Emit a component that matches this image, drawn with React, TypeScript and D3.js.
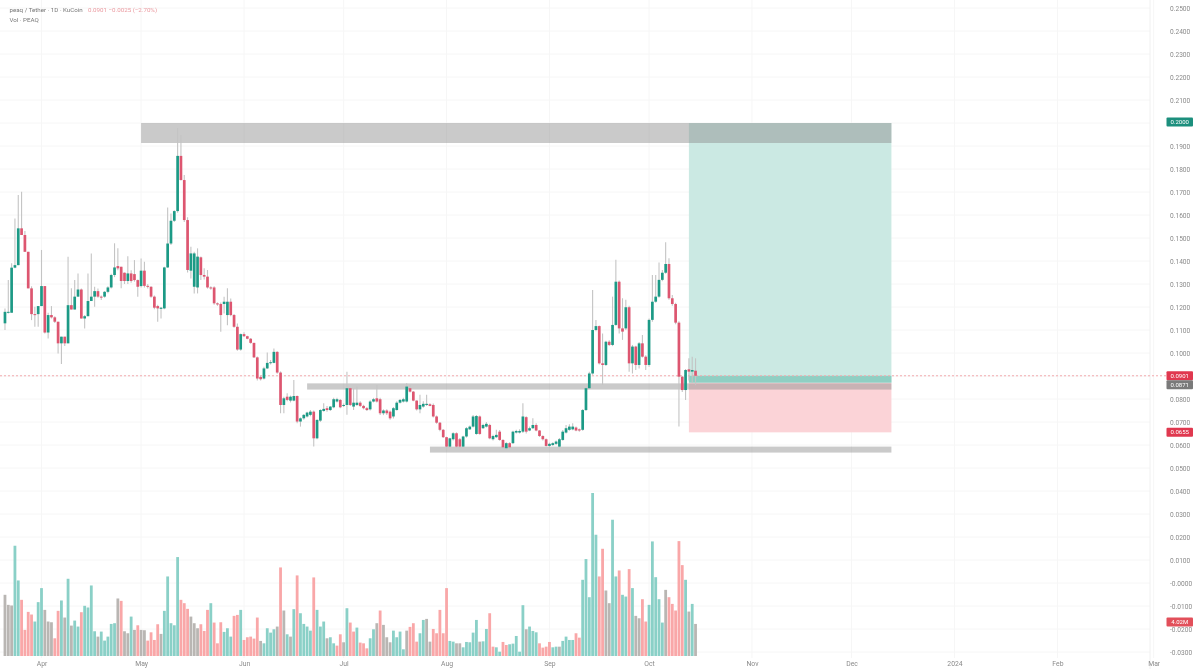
import { useEffect, useRef } from "react";
import * as d3 from "d3";

const firstDay = Date.UTC(2023, 2, 21);

const opens = [
  .1129, .1175, .1175, .1371, .1382, .1542, .1513, .1440, .1281, .1169,
  .1169, .1204, .1291, .1089, .1165, .1155, .1136, .1042, .1071, .1042,
  .1208, .1189, .1245, .1276, .1150, .1160, .1226, .1245, .1269, .1245,
  .1245, .1266, .1285, .1339, .1378, .1375, .1349, .1313, .1346, .1343,
  .1317, .1291, .1358, .1292, .1288, .1245, .1204, .1192, .1194, .1372,
  .1476, .1575, .1617, .1857, .1752, .1578, .1358, .1288, .1285, .1416,
  .1339, .1332, .1285, .1285, .1216, .1213, .1213, .1165, .1223, .1165,
  .1114, .1015, .1082, .1073, .1062, .1044, .0981, .0896, .0889, .0933,
  .0957, .0957, .1005, .0915, .0774, .0810, .0793, .0793, .0813, .0702,
  .0716, .0724, .0731, .0745, .0629, .0706, .0748, .0760, .0752, .0764,
  .0789, .0796, .0770, .0774, .0847, .0767, .0774, .0784, .0770, .0760,
  .0755, .0789, .0803, .0799, .0738, .0750, .0745, .0724, .0752, .0784,
  .0789, .0789, .0847, .0832, .0793, .0755, .0767, .0774, .0777, .0774,
  .0724, .0697, .0666, .0634, .0593, .0625, .0651, .0625, .0593, .0637,
  .0668, .0680, .0648, .0724, .0673, .0680, .0687, .0625, .0634, .0658,
  .0622, .0586, .0608, .0608, .0654, .0654, .0658, .0721, .0663, .0673,
  .0687, .0663, .0639, .0625, .0596, .0600, .0605, .0593, .0622, .0654,
  .0666, .0668, .0676, .0668, .0666, .0752, .0847, .0911, .1100, .1117,
  .0955, .0948, .1049, .1035, .1122, .1310, .1107, .1107, .1199, .0955,
  .1028, .0948, .1042, .0984, .0948, .1144, .1223, .1245, .1318, .1349,
  .1387, .1238, .1213, .1132, .0897, .0839, .0929, .0919, .0923,
];

const closes = [
  .1179, .1179, .1371, .1382, .1542, .1513, .1440, .1281, .1169, .1165,
  .1204, .1291, .1089, .1165, .1155, .1136, .1042, .1071, .1042, .1208,
  .1189, .1245, .1276, .1150, .1160, .1226, .1245, .1269, .1245, .1242,
  .1266, .1285, .1339, .1372, .1368, .1313, .1313, .1346, .1313, .1317,
  .1288, .1358, .1292, .1288, .1245, .1197, .1194, .1197, .1372, .1476,
  .1575, .1617, .1857, .1752, .1578, .1361, .1433, .1433, .1419, .1339,
  .1332, .1285, .1281, .1216, .1211, .1165, .1223, .1223, .1165, .1114,
  .1015, .1082, .1073, .1062, .1044, .0981, .0889, .0886, .0933, .0957,
  .0960, .1005, .0915, .0774, .0803, .0796, .0810, .0813, .0702, .0716,
  .0731, .0741, .0745, .0629, .0709, .0752, .0757, .0752, .0767, .0799,
  .0799, .0764, .0774, .0847, .0774, .0784, .0784, .0770, .0760, .0752,
  .0789, .0799, .0789, .0738, .0750, .0738, .0716, .0760, .0784, .0796,
  .0799, .0854, .0832, .0793, .0755, .0774, .0779, .0779, .0770, .0724,
  .0697, .0666, .0634, .0593, .0629, .0651, .0593, .0593, .0637, .0673,
  .0680, .0724, .0726, .0648, .0687, .0692, .0629, .0639, .0644, .0622,
  .0590, .0608, .0590, .0658, .0661, .0661, .0724, .0658, .0673, .0687,
  .0663, .0639, .0625, .0596, .0605, .0608, .0615, .0625, .0658, .0673,
  .0680, .0680, .0663, .0663, .0752, .0847, .0911, .1100, .1117, .0955,
  .0948, .1049, .1035, .1122, .1310, .1107, .1093, .1199, .0955, .1028,
  .0948, .1042, .0984, .0948, .1144, .1223, .1245, .1318, .1349, .1387,
  .1238, .1213, .1132, .0897, .0839, .0926, .0919, .0926, .0901,
];

const highs = [
  .1194, .1317, .1390, .1585, .1687, .1701, .1530, .1440, .1290, .1201,
  .1204, .1448, .1291, .1175, .1204, .1160, .1136, .1071, .1071, .1419,
  .1281, .1317, .1346, .1280, .1165, .1346, .1433, .1288, .1280, .1250,
  .1270, .1290, .1345, .1477, .1455, .1375, .1350, .1421, .1360, .1404,
  .1320, .1411, .1397, .1300, .1290, .1250, .1210, .1200, .1375, .1633,
  .1607, .1621, .1978, .1948, .1774, .1590, .1462, .1440, .1455, .1420,
  .1368, .1361, .1290, .1290, .1220, .1220, .1245, .1281, .1237, .1170,
  .1128, .1085, .1090, .1075, .1065, .1045, .0985, .0900, .0940, .1002,
  .0970, .1020, .1008, .0920, .0810, .0825, .0815, .0883, .0815, .0720,
  .0735, .0745, .0752, .0750, .0712, .0755, .0782, .0770, .0770, .0805,
  .0805, .0800, .0780, .0919, .0850, .0847, .0854, .0790, .0775, .0765,
  .0795, .0805, .0861, .0805, .0755, .0755, .0750, .0765, .0790, .0800,
  .0805, .0869, .0860, .0835, .0795, .0818, .0790, .0818, .0782, .0780,
  .0728, .0700, .0670, .0636, .0632, .0655, .0655, .0630, .0640, .0678,
  .0685, .0730, .0730, .0728, .0692, .0700, .0692, .0645, .0666, .0665,
  .0625, .0612, .0612, .0662, .0666, .0668, .0782, .0725, .0680, .0716,
  .0695, .0665, .0642, .0628, .0610, .0612, .0620, .0630, .0665, .0687,
  .0690, .0695, .0680, .0672, .0756, .0852, .0918, .1274, .1143, .1120,
  .1085, .1053, .1055, .1245, .1405, .1315, .1238, .1231, .1205, .1035,
  .1032, .1048, .1078, .0990, .1150, .1339, .1339, .1394, .1361, .1481,
  .1412, .1252, .1218, .1138, .0900, .0930, .0977, .0984, .0977,
];

const lows = [
  .1100, .1172, .1175, .1368, .1382, .1513, .1440, .1281, .1143, .1114,
  .1114, .1204, .1085, .1063, .1150, .1130, .0998, .0952, .1030, .1042,
  .1189, .1189, .1245, .1150, .1107, .1160, .1226, .1201, .1240, .1230,
  .1240, .1260, .1280, .1330, .1360, .1281, .1300, .1300, .1305, .1310,
  .1245, .1285, .1285, .1280, .1240, .1190, .1136, .1150, .1190, .1370,
  .1470, .1570, .1610, .1750, .1570, .1350, .1324, .1259, .1259, .1317,
  .1320, .1280, .1275, .1210, .1205, .1092, .1172, .1121, .1160, .1110,
  .1010, .1010, .1070, .1060, .1040, .0978, .0880, .0880, .0885, .0930,
  .0950, .0955, .0910, .0738, .0738, .0790, .0785, .0790, .0695, .0680,
  .0710, .0720, .0725, .0593, .0625, .0700, .0745, .0745, .0748, .0760,
  .0785, .0760, .0765, .0731, .0770, .0752, .0770, .0765, .0755, .0748,
  .0750, .0785, .0785, .0730, .0730, .0730, .0710, .0715, .0750, .0780,
  .0785, .0785, .0828, .0790, .0750, .0738, .0762, .0770, .0768, .0720,
  .0692, .0660, .0630, .0571, .0588, .0620, .0588, .0588, .0590, .0632,
  .0665, .0676, .0645, .0645, .0670, .0676, .0625, .0620, .0630, .0618,
  .0585, .0580, .0585, .0604, .0650, .0650, .0652, .0650, .0660, .0670,
  .0660, .0635, .0620, .0592, .0590, .0596, .0600, .0588, .0618, .0650,
  .0662, .0664, .0660, .0658, .0662, .0748, .0843, .0905, .1095, .0950,
  .0861, .0944, .1030, .1030, .1118, .1085, .1057, .1100, .0919, .0911,
  .0926, .0933, .0980, .0926, .0940, .1136, .1218, .1240, .1312, .1345,
  .1232, .1205, .1125, .0680, .0830, .0796, .0880, .0870, .0860,
];

// volume in millions, read bar by bar
const volumes = [
  7.67, 6.41, 6.33, 13.82, 9.47, 7.04, 3.27, 5.53, 5.20, 4.32,
  6.75, 8.51, 5.78, 4.32, 4.23, 2.22, 5.66, 6.96, 4.82, 9.68,
  3.81, 4.44, 3.69, 5.49, 6.29, 6.08, 8.84, 3.10, 2.43, 3.06,
  1.93, 2.43, 4.02, 4.11, 7.21, 6.91, 3.10, 2.85, 4.94, 3.27,
  3.85, 3.27, 3.23, 1.93, 2.97, 2.01, 3.98, 2.77, 5.66, 9.97,
  4.11, 3.85, 12.40, 7.04, 6.62, 5.91, 4.94, 4.11, 3.48, 3.98,
  3.14, 5.78, 6.62, 4.19, 1.59, 4.23, 3.02, 3.48, 2.43, 5.03,
  5.15, 5.78, 2.01, 2.35, 2.43, 2.18, 4.82, 1.89, 1.59, 3.48,
  2.93, 3.35, 3.69, 11.10, 5.70, 2.72, 2.43, 5.87, 10.10, 5.36,
  4.02, 3.69, 3.18, 9.85, 5.78, 3.69, 4.32, 2.22, 2.35, 1.59,
  1.30, 2.72, 1.72, 5.99,
  4.19, 3.06, 3.56, 1.68, 1.59, 0.96, 2.22, 3.35, 4.11, 5.70,
  3.90, 2.35, 1.72, 3.18, 2.35, 3.06, 0.84, 3.18, 3.65, 4.11,
  1.80, 2.85, 4.52, 4.65, 1.80, 3.39, 2.85, 5.78, 2.85, 8.51,
  1.89, 1.80, 1.59, 1.59, 1.09, 1.76, 1.72, 2.93, 4.52, 1.80,
  1.84, 3.39, 5.36, 1.17, 1.09, 0.54, 1.76, 1.38, 1.47, 1.55,
  2.51, 0.54, 6.37, 3.35, 3.69, 3.14, 2.97, 1.59, 1.05, 1.17,
  1.76, 1.09, 1.17, 1.17, 1.89, 2.43, 2.01, 2.01, 2.85, 2.30,
  9.55, 12.15, 7.37, 20.43, 15.20, 9.97, 13.44, 8.21, 6.62, 17.08,
  9.97, 10.72, 7.67, 7.45, 10.89, 8.51, 5.03, 4.73, 7.12, 4.32,
  6.41, 14.36, 9.88, 7.12, 4.19, 8.29, 7.37, 6.53, 5.70, 14.40,
  11.39, 9.55, 5.57, 6.53, 4.02,
];

// t = up day, p = down day, g = flat, one letter per volume bar
const volumeTones = [
  "gggttppppt", "ttgggpptgt", "gttpttttgt", "ttttgpggtg", "pggppppgtt",
  "tttpppgggp", "pptppptttp", "ptpppppgtt", "ttgpgtgtpt", "tttptttgtt", "ppgt",
  "pptpppttgp", "gggttttgpp", "pttggppppp", "ttggtttttg", "ttppttpptt",
  "tttgtttppp", "pttgttttpp", "tttttppggt", "tpttptggpp", "tttttgpppp", "ptgtg",
].join("");

const priceTicks = [
  0.25, 0.24, 0.23, 0.22, 0.21, 0.2, 0.19, 0.18, 0.17, 0.16, 0.15, 0.14, 0.13, 0.12, 0.11,
  0.1, 0.09, 0.08, 0.07, 0.06, 0.05, 0.04, 0.03, 0.02, 0.01, 0, -0.01, -0.02, -0.03,
];

// these two sit behind a price tag, so only the grid line shows
const coveredTicks = [0.2, 0.09];

const monthTicks = [
  Date.UTC(2023, 3, 1), Date.UTC(2023, 4, 1), Date.UTC(2023, 5, 1), Date.UTC(2023, 6, 1),
  Date.UTC(2023, 7, 1), Date.UTC(2023, 8, 1), Date.UTC(2023, 9, 1), Date.UTC(2023, 10, 1),
  Date.UTC(2023, 11, 1), Date.UTC(2024, 0, 1), Date.UTC(2024, 1, 1), Date.UTC(2024, 2, 1),
];

// support / resistance zones: [from, to, upper price, lower price]
const zones: [number, number, number, number][] = [
  [Date.UTC(2023, 4, 1), Date.UTC(2023, 11, 13), 0.2, 0.1913],
  [Date.UTC(2023, 5, 20), Date.UTC(2023, 11, 13), 0.0868, 0.0841],
  [Date.UTC(2023, 6, 27), Date.UTC(2023, 11, 13), 0.0593, 0.0567],
];

const toolStart = Date.UTC(2023, 9, 13);
const toolEnd = Date.UTC(2023, 11, 13);
const targetPrice = 0.2;
const entryPrice = 0.0871;
const stopPrice = 0.0655;
const lastPrice = 0.0901;
const lastVolume = 4.02;

const UP = "#1f9a86";
const DOWN = "#dd5670";
const TONES: Record<string, string> = { t: "#8ad0c7", p: "#f9a7a8", g: "#b9b6b3" };

const width = 1200;
const height = 669;

export default function App() {
  const svgRef = useRef<SVGSVGElement | null>(null);

  useEffect(() => {
    const svg = d3.select(svgRef.current);
    svg.selectAll("*").remove();

    const x = d3
      .scaleUtc()
      .domain([Date.UTC(2023, 3, 1), Date.UTC(2024, 2, 1)])
      .range([41.5, 41.5 + 335 * 3.32]);
    const y = d3.scaleLinear().domain([0.25, -0.03]).range([8, 652]);
    const volY = d3.scaleLinear().domain([0, 20.43]).range([656, 493]);
    const day = (i: number) => firstDay + i * 86400000;

    svg
      .append("defs")
      .append("filter")
      .attr("id", "soft")
      .attr("x", 0)
      .attr("y", 0)
      .attr("width", 1)
      .attr("height", 1)
      .append("feGaussianBlur")
      .attr("stdDeviation", 0.55);

    const root = svg.append("g").attr("filter", "url(#soft)");
    root.append("rect").attr("width", width).attr("height", height).attr("fill", "#fff");

    // grid
    root
      .append("g")
      .selectAll("line")
      .data(priceTicks)
      .join("line")
      .attr("x1", 0)
      .attr("x2", 1150)
      .attr("y1", (d) => y(d))
      .attr("y2", (d) => y(d))
      .attr("stroke", "#f6f6f6");
    root
      .append("g")
      .selectAll("line")
      .data(monthTicks)
      .join("line")
      .attr("x1", (d) => x(d))
      .attr("x2", (d) => x(d))
      .attr("y1", 0)
      .attr("y2", 658)
      .attr("stroke", "#f6f6f6");
    root
      .append("line")
      .attr("x1", 1150)
      .attr("x2", 1150)
      .attr("y1", 0)
      .attr("y2", height)
      .attr("stroke", "#f0f0f0");

    // long position tool
    const toolX = x(toolStart);
    const toolW = x(toolEnd) - toolX;
    root
      .append("rect")
      .attr("x", toolX)
      .attr("width", toolW)
      .attr("y", y(targetPrice))
      .attr("height", y(entryPrice) - y(targetPrice))
      .attr("fill", "#cbe9e3");
    root
      .append("rect")
      .attr("x", toolX)
      .attr("width", toolW)
      .attr("y", y(entryPrice))
      .attr("height", y(stopPrice) - y(entryPrice))
      .attr("fill", "#fbd3d7");
    root
      .append("rect")
      .attr("x", toolX)
      .attr("width", toolW)
      .attr("y", y(lastPrice))
      .attr("height", y(entryPrice) - y(lastPrice))
      .attr("fill", "#8fcfc3");

    // gray zones
    root
      .append("g")
      .selectAll("rect")
      .data(zones)
      .join("rect")
      .attr("x", (d) => x(d[0]))
      .attr("width", (d) => x(d[1]) - x(d[0]))
      .attr("y", (d) => y(d[2]))
      .attr("height", (d) => y(d[3]) - y(d[2]))
      .attr("fill", "#8c8c8c")
      .attr("fill-opacity", 0.46);

    // last price line
    root
      .append("line")
      .attr("x1", 0)
      .attr("x2", 1166)
      .attr("y1", y(lastPrice))
      .attr("y2", y(lastPrice))
      .attr("stroke", "#f3a9ae")
      .attr("stroke-dasharray", "2 2");

    // volume
    root
      .append("g")
      .selectAll("rect")
      .data(volumes)
      .join("rect")
      .attr("x", (_, i) => x(day(i)) - 1.4)
      .attr("width", 2.8)
      .attr("y", (d) => volY(d))
      .attr("height", (d) => volY(0) - volY(d))
      .attr("fill", (_, i) => TONES[volumeTones[i]] ?? TONES.g);

    // candles
    const candles = root
      .append("g")
      .selectAll("g")
      .data(closes.map((c, i) => ({ i, o: opens[i], c, h: highs[i], l: lows[i] })))
      .join("g");
    candles
      .append("line")
      .attr("x1", (d) => x(day(d.i)))
      .attr("x2", (d) => x(day(d.i)))
      .attr("y1", (d) => y(Math.max(d.h, d.o, d.c)))
      .attr("y2", (d) => y(Math.min(d.l, d.o, d.c)))
      .attr("stroke", "#c4c4c4")
      .attr("stroke-width", 1.1);
    candles
      .append("rect")
      .attr("x", (d) => x(day(d.i)) - 1.35)
      .attr("width", 2.7)
      .attr("y", (d) => y(Math.max(d.o, d.c)))
      .attr("height", (d) => Math.max(1, Math.abs(y(d.o) - y(d.c))))
      .attr("fill", (d) => (d.c >= d.o ? UP : DOWN));

    // axes
    const yAxis = root
      .append("g")
      .attr("transform", "translate(1167,0)")
      .call(
        d3
          .axisRight(y)
          .tickValues(priceTicks.filter((d) => !coveredTicks.includes(d)))
          .tickSize(0)
          .tickFormat((d) => {
            const v = +d;
            return v <= 0 ? `-${Math.abs(v).toFixed(4)}` : v.toFixed(4);
          })
      );
    yAxis.select(".domain").remove();
    yAxis.selectAll("text").attr("font-size", 6.6).attr("fill", "#8a8a8a").attr("font-family", "Roboto");

    const xAxis = root
      .append("g")
      .attr("transform", "translate(0,656)")
      .call(
        d3
          .axisBottom(x)
          .tickValues(monthTicks.map((d) => new Date(d)))
          .tickSize(0)
          .tickFormat((d) => {
            const date = d as Date;
            return date.getUTCMonth() === 0
              ? String(date.getUTCFullYear())
              : d3.utcFormat("%b")(date);
          })
      );
    xAxis.select(".domain").remove();
    xAxis
      .selectAll("text")
      .attr("dy", 0)
      .attr("y", 10)
      .attr("font-size", 6.8)
      .attr("fill", "#8a8a8a")
      .attr("font-family", "Roboto");

    // price tags
    const tags = [
      { label: targetPrice.toFixed(4), at: y(targetPrice) - 1, fill: "#1d8f7d" },
      { label: lastPrice.toFixed(4), at: y(lastPrice), fill: "#e0384f" },
      { label: entryPrice.toFixed(4), at: y(lastPrice) + 9, fill: "#7a7a7a" },
      { label: stopPrice.toFixed(4), at: y(stopPrice), fill: "#e0384f" },
      { label: `${lastVolume.toFixed(2)}M`, at: volY(lastVolume) - 2, fill: "#e2505a" },
    ];
    const tag = root.append("g").selectAll("g").data(tags).join("g");
    tag
      .append("rect")
      .attr("x", 1166.5)
      .attr("width", 26.5)
      .attr("y", (d) => d.at - 4.5)
      .attr("height", 9)
      .attr("rx", 1)
      .attr("fill", (d) => d.fill);
    tag
      .append("text")
      .attr("x", 1179.7)
      .attr("y", (d) => d.at + 2)
      .attr("text-anchor", "middle")
      .attr("font-size", 6)
      .attr("font-family", "Roboto")
      .attr("fill", "#fff")
      .text((d) => d.label);

    // header
    const head = root.append("g").attr("font-family", "Roboto").attr("font-size", 6.2);
    head.append("text").attr("x", 9.5).attr("y", 11.5).attr("fill", "#777").text("peaq / Tether · 1D · KuCoin");
    head.append("text").attr("x", 88).attr("y", 11.5).attr("fill", "#eb9aa0").text("0.0901  −0.0025 (−2.70%)");
    head.append("text").attr("x", 9.5).attr("y", 21.5).attr("fill", "#777").text("Vol · PEAQ");
  }, []);

  return (
    <svg
      ref={svgRef}
      width={width}
      height={height}
      style={{ position: "absolute", left: 0, top: 0 }}
    ></svg>
  );
}
